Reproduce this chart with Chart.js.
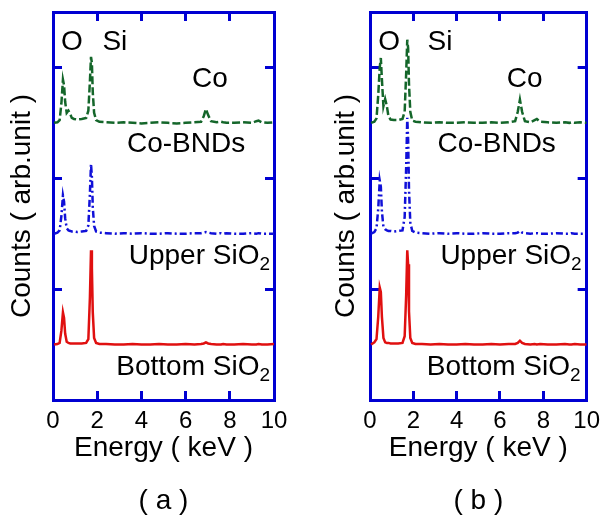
<!DOCTYPE html>
<html>
<head>
<meta charset="utf-8">
<script src="https://cdn.jsdelivr.net/npm/chart.js@4.4.0/dist/chart.umd.min.js"></script>
<style>
  html, body { margin: 0; padding: 0; background: #fff; overflow: hidden; }
  .panel { position: absolute; top: 0; height: 519px; }
  #pa { left: 0; width: 316px; }
  #pb { left: 316px; width: 300px; }
</style>
</head>
<body>
<div class="panel" id="pa"><canvas id="chart-a"></canvas></div>
<div class="panel" id="pb"><canvas id="chart-b"></canvas></div>
<script>
// energie (keV) - grille commune des spectres
const energy = [0.05, 0.2, 0.3, 0.38, 0.45, 0.5, 0.55, 0.62, 0.7, 0.78,
                0.85, 0.95, 1.1, 1.3, 1.5, 1.6, 1.67, 1.72, 1.76, 1.8,
                1.86, 1.95, 2.1, 2.4, 2.8, 3.2, 3.6, 4.0, 4.4, 4.8,
                5.2, 5.6, 6.0, 6.4, 6.7, 6.82, 6.92, 7.02, 7.15, 7.4,
                7.6, 7.7, 7.85, 8.2, 8.6, 9.0, 9.2, 9.3, 9.45, 9.7,
                10];
const energyTicks = [0, 2, 4, 6, 8, 10];
const countTicks = [0, 2, 4, 6, 7];

// decalage vertical de chaque spectre (arb.unit)
const baseBottom = 1;
const baseUpper = 3;
const baseBnds = 5;

// (a)
const aBnds = [0.00, 0.01, 0.05, 0.35, 0.78, 0.68, 0.38, 0.18, 0.22, 0.16,
               0.09, 0.07, 0.06, 0.07, 0.09, 0.22, 0.75, 1.19, 1.08, 0.55,
               0.18, 0.05, 0.02, 0.01, 0.00, 0.01, 0.00, -0.01, 0.00, 0.01,
               0.00, -0.01, 0.00, 0.01, 0.02, 0.12, 0.25, 0.14, 0.03, 0.01,
               0.02, 0.01, 0.00, 0.00, 0.01, 0.00, 0.03, 0.04, 0.01, 0.00,
               0.01];
const aUpper = [0.00, 0.02, 0.06, 0.32, 0.69, 0.58, 0.28, 0.10, 0.06, 0.05,
                0.04, 0.04, 0.03, 0.04, 0.05, 0.15, 0.72, 1.26, 1.02, 0.48,
                0.14, 0.04, 0.02, 0.01, 0.00, 0.01, 0.00, 0.01, 0.00, 0.00,
                0.01, 0.00, 0.00, 0.01, 0.01, 0.02, 0.03, 0.02, 0.01, 0.00,
                0.01, 0.00, 0.01, 0.00, 0.00, 0.01, 0.00, 0.01, 0.00, 0.00,
                0.00];
const aBottom = [0.00, 0.01, 0.03, 0.25, 0.58, 0.48, 0.20, 0.05, 0.03, 0.02,
                 0.02, 0.02, 0.02, 0.02, 0.03, 0.10, 0.85, 1.70, 1.38, 0.58,
                 0.12, 0.03, 0.01, 0.01, 0.00, 0.00, 0.01, 0.00, 0.00, 0.01,
                 0.00, 0.00, 0.01, 0.00, 0.01, 0.02, 0.04, 0.02, 0.01, 0.00,
                 0.00, 0.01, 0.00, 0.00, 0.01, 0.00, 0.00, 0.01, 0.00, 0.00,
                 0.01];

// (b)
const bBnds = [0.00, 0.02, 0.08, 0.50, 1.00, 1.17, 0.78, 0.30, 0.43, 0.30,
               0.12, 0.06, 0.05, 0.05, 0.07, 0.20, 0.90, 1.50, 1.35, 0.70,
               0.20, 0.04, 0.02, 0.01, 0.00, 0.01, 0.00, 0.00, 0.01, 0.00,
               0.00, 0.01, 0.00, 0.01, 0.03, 0.20, 0.42, 0.20, 0.03, 0.01,
               0.05, 0.07, 0.02, 0.01, 0.00, 0.01, 0.00, 0.01, 0.00, 0.01,
               0.00];
const bUpper = [0.00, 0.03, 0.10, 0.45, 0.96, 0.85, 0.40, 0.12, 0.08, 0.06,
                0.05, 0.05, 0.04, 0.05, 0.06, 0.30, 1.20, 2.09, 1.70, 0.80,
                0.20, 0.05, 0.02, 0.01, 0.00, 0.01, 0.00, 0.01, 0.00, 0.00,
                0.01, 0.00, 0.00, 0.01, 0.01, 0.02, 0.05, 0.02, 0.01, 0.00,
                0.01, 0.01, 0.00, 0.00, 0.01, 0.00, 0.00, 0.01, 0.00, 0.00,
                0.00];
const bBottom = [0.00, 0.04, 0.10, 0.50, 1.03, 0.95, 0.50, 0.12, 0.04, 0.03,
                 0.03, 0.02, 0.02, 0.02, 0.03, 0.15, 0.90, 1.70, 1.45, 0.60,
                 0.12, 0.03, 0.01, 0.01, 0.00, 0.01, 0.00, 0.00, 0.01, 0.00,
                 0.00, 0.01, 0.00, 0.01, 0.01, 0.03, 0.07, 0.03, 0.01, 0.00,
                 0.01, 0.00, 0.01, 0.00, 0.00, 0.01, 0.00, 0.00, 0.01, 0.00,
                 0.00];

// textes dans le graphe (position en keV / arb.unit)
const labelsA = [
    { text: 'O', x: 0.86, y: 6.31, align: 'center' },
    { text: 'Si', x: 2.8, y: 6.31, align: 'center' },
    { text: 'Co', x: 7.1, y: 5.65, align: 'center' },
    { text: 'Co-BNDs', x: 6.02, y: 4.47, align: 'center' },
    { text: 'Upper SiO', sub: '2', x: 9.82, y: 2.45, align: 'right' },
    { text: 'Bottom SiO', sub: '2', x: 9.82, y: 0.45, align: 'right' }
];
const labelsB = [
    { text: 'O', x: 0.88, y: 6.31, align: 'center' },
    { text: 'Si', x: 3.23, y: 6.31, align: 'center' },
    { text: 'Co', x: 7.14, y: 5.65, align: 'center' },
    { text: 'Co-BNDs', x: 5.85, y: 4.47, align: 'center' },
    { text: 'Upper SiO', sub: '2', x: 9.77, y: 2.45, align: 'right' },
    { text: 'Bottom SiO', sub: '2', x: 9.72, y: 0.45, align: 'right' }
];

const fontFam = "'Liberation Sans', Arial, sans-serif";
const frameBlue = '#0000d2';
Chart.defaults.font.family = fontFam;

const peakText = {
    id: 'peakText',
    afterDatasetsDraw(chart, args, opts) {
        const ctx = chart.ctx;
        const sx = chart.scales.x, sy = chart.scales.y;
        ctx.save();
        ctx.fillStyle = '#000';
        ctx.textAlign = 'left';
        ctx.textBaseline = 'alphabetic';
        opts.items.forEach(function(it) {
            ctx.font = '28px ' + fontFam;
            const w = ctx.measureText(it.text).width;
            let ws = 0;
            if (it.sub) {
                ctx.font = '19px ' + fontFam;
                ws = ctx.measureText(it.sub).width;
            }
            const px = sx.getPixelForValue(it.x);
            const py = sy.getPixelForValue(it.y);
            const x0 = it.align === 'right' ? px - w - ws : px - (w + ws) / 2;
            ctx.font = '28px ' + fontFam;
            ctx.fillText(it.text, x0, py);
            if (it.sub) {
                ctx.font = '19px ' + fontFam;
                ctx.fillText(it.sub, x0 + w, py + 6);
            }
        });
        ctx.restore();
    }
};

function serie(vals, base) {
    return energy.map((e, i) => ({ x: e, y: vals[i] + base }));
}

function frameGrid() {
    return { drawOnChartArea: false, tickLength: -9, tickWidth: 3, tickColor: frameBlue };
}

function makePanel(id, bottom, upper, bnds, labels, caption, yWidth, yTitlePad, rightPad) {
    const ctx = document.getElementById(id).getContext('2d');
    new Chart(ctx, {
        type: 'line',
        data: {
            datasets: [
                { label: 'Bottom SiO2', data: serie(bottom, baseBottom), borderColor: '#e01010', borderWidth: 2.5 },
                { label: 'Upper SiO2', data: serie(upper, baseUpper), borderColor: '#1010d8', borderWidth: 2.5, borderDash: [7, 3, 2, 3] },
                { label: 'Co-BNDs', data: serie(bnds, baseBnds), borderColor: '#14662a', borderWidth: 2.5, borderDash: [8, 3] }
            ]
        },
        options: {
            responsive: true,
            maintainAspectRatio: false,
            animation: false,
            parsing: false,
            elements: { point: { radius: 0 }, line: { tension: 0 } },
            layout: { padding: { top: 12, right: rightPad, left: 0, bottom: 0 } },
            plugins: {
                legend: { display: false },
                tooltip: { enabled: false },
                title: {
                    display: true, text: caption, position: 'bottom', fullSize: false,
                    color: '#000', font: { size: 28, weight: 'normal' },
                    padding: { top: 10, bottom: 1 }
                },
                peakText: { items: labels }
            },
            scales: {
                x: {
                    type: 'linear', position: 'bottom', min: 0, max: 10,
                    afterBuildTicks: s => { s.ticks = energyTicks.map(v => ({ value: v })); },
                    afterFit: s => { s.height = 74.4; },
                    border: { color: frameBlue, width: 3 },
                    grid: frameGrid(),
                    ticks: { color: '#000', font: { size: 24 }, padding: 16, maxRotation: 0, autoSkip: false },
                    title: { display: true, text: 'Energy ( keV )', color: '#000', font: { size: 28 }, padding: { top: 0, bottom: 9 } }
                },
                x2: {
                    type: 'linear', position: 'top', min: 0, max: 10,
                    afterBuildTicks: s => { s.ticks = energyTicks.map(v => ({ value: v })); },
                    afterFit: s => { s.height = 0; },
                    border: { color: frameBlue, width: 3 },
                    grid: frameGrid(),
                    ticks: { display: false }
                },
                y: {
                    type: 'linear', position: 'left', min: 0, max: 7,
                    afterBuildTicks: s => { s.ticks = countTicks.map(v => ({ value: v })); },
                    afterFit: s => { s.width = yWidth; },
                    border: { color: frameBlue, width: 3 },
                    grid: frameGrid(),
                    ticks: { display: false },
                    title: { display: true, text: 'Counts ( arb.unit )', color: '#000', font: { size: 28 }, padding: { top: yTitlePad, bottom: 0 } }
                },
                y2: {
                    type: 'linear', position: 'right', min: 0, max: 7,
                    afterBuildTicks: s => { s.ticks = countTicks.map(v => ({ value: v })); },
                    afterFit: s => { s.width = 0; },
                    border: { color: frameBlue, width: 3 },
                    grid: frameGrid(),
                    ticks: { display: false }
                }
            }
        },
        plugins: [peakText]
    });
}

document.addEventListener('DOMContentLoaded', function() {
    makePanel('chart-a', aBottom, aUpper, aBnds, labelsA, '( a )', 53, 5, 42);
    makePanel('chart-b', bBottom, bUpper, bBnds, labelsB, '( b )', 54, 13, 29);
});
</script>
</body>
</html>
